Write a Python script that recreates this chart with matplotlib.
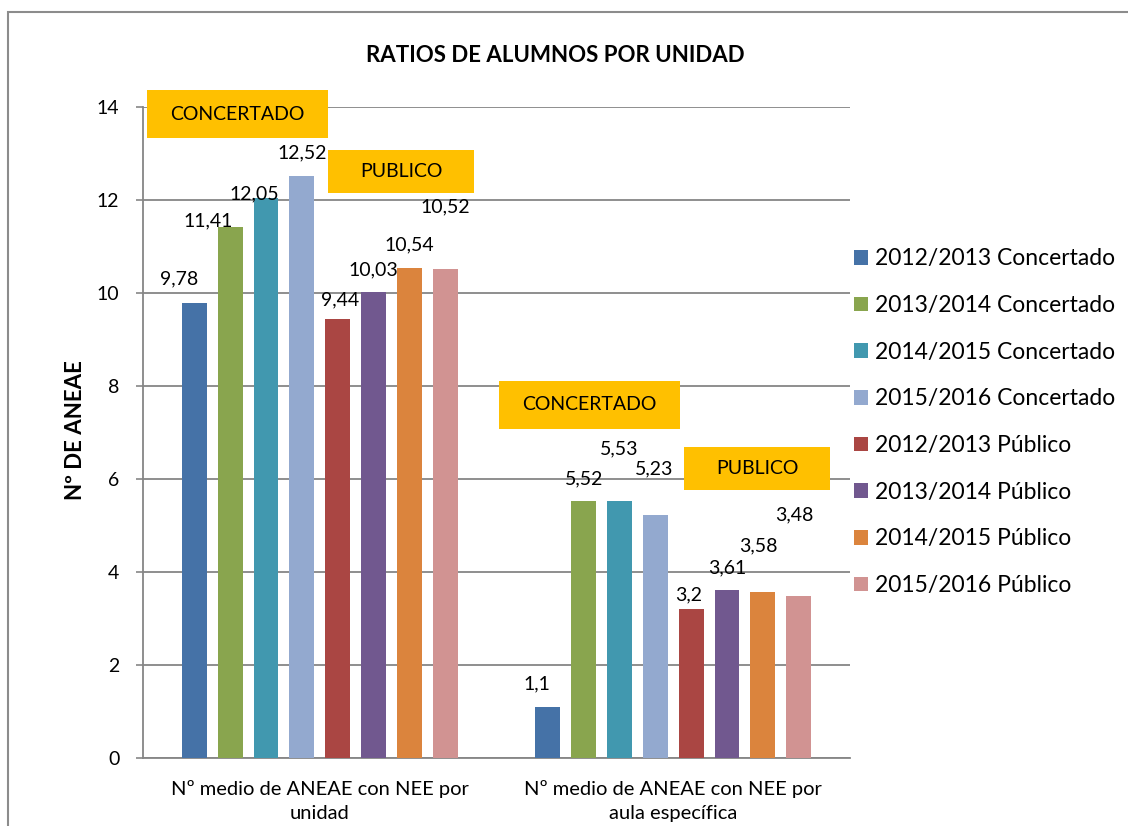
import numpy as np
import matplotlib
matplotlib.use('Agg')
import matplotlib.pyplot as plt
from matplotlib.patches import Rectangle

plt.rcParams['font.family'] = ['Lato', 'DejaVu Sans']

categories = ['Nº medio de ANEAE con NEE por\nunidad',
              'Nº medio de ANEAE con NEE por\naula específica']
series_names = ['2012/2013 Concertado', '2013/2014 Concertado',
                '2014/2015 Concertado', '2015/2016 Concertado',
                '2012/2013 Público', '2013/2014 Público',
                '2014/2015 Público', '2015/2016 Público']
c_2012 = [9.78, 1.1]
c_2013 = [11.41, 5.52]
c_2014 = [12.05, 5.53]
c_2015 = [12.52, 5.23]
p_2012 = [9.44, 3.2]
p_2013 = [10.03, 3.61]
p_2014 = [10.54, 3.58]
p_2015 = [10.52, 3.48]
values = [c_2012, c_2013, c_2014, c_2015, p_2012, p_2013, p_2014, p_2015]

colors = ['#4572A7', '#89A54E', '#4198AF', '#93A9CF',
          '#AA4643', '#71588F', '#DB843D', '#D19392']

# data labels were dragged around by hand in the original, offsets in px
label_off = [[(-15, 24), (-11, 23)],
             [(-22, 7), (0, 22)],
             [(-12, 4), (0, 52)],
             [(0, 23), (-1, 46)],
             [(2, 19), (-3, 14)],
             [(0, 22), (0, 22)],
             [(0, 23), (-4, 46)],
             [(0, 62), (-4, 81)]]

W, H = 1128, 826
fig = plt.figure(figsize=(W / 100, H / 100), dpi=100)


def fx(x):
    return x / W


def fy(y):
    return 1 - y / H


ax = fig.add_axes([fx(143), fy(758), (850 - 143) / W, (758 - 107) / H])

step = 0.1014
width = 0.0706
x = np.arange(len(categories))
bars = []
for j, (vals, col) in enumerate(zip(values, colors)):
    xs = x + (j - 3.5) * step
    b = ax.bar(xs, vals, width=width, color=col, label=series_names[j], zorder=3)
    bars.append(b)
    for i, v in enumerate(vals):
        dx, dy = label_off[j][i]
        ax.annotate(str(v).replace('.', ','), (xs[i], v), xytext=(dx, dy),
                    textcoords='offset pixels', ha='center', va='center',
                    fontsize=14, color='black', zorder=5)

ax.set_xlim(-0.5, 1.5)
ax.set_ylim(0, 14)
ax.set_yticks(np.arange(0, 15, 2))
ax.set_xticks(x)
ax.set_xticklabels(categories, fontsize=14.5, linespacing=1.5)
ax.tick_params(axis='x', length=0, pad=16)
ax.tick_params(axis='y', length=5, width=1.2, color='#868686', labelsize=14, pad=12)
ax.grid(axis='y', color='#868686', linewidth=1.3, zorder=0)
for s in ['top', 'right']:
    ax.spines[s].set_visible(False)
for s in ['left', 'bottom']:
    ax.spines[s].set_color('#868686')
    ax.spines[s].set_linewidth(1.3)

fig.text(fx(555), fy(55), 'RATIOS DE ALUMNOS POR UNIDAD', ha='center', va='center',
         fontsize=16, fontweight='bold')
fig.text(fx(75), fy(430), 'Nº DE ANEAE', ha='center', va='center', rotation=90,
         fontsize=16, fontweight='bold')

# orange annotation boxes
boxes = [('CONCERTADO', 147, 90, 328, 138),
         ('PUBLICO', 328, 150, 474, 193),
         ('CONCERTADO', 499, 381, 680, 429),
         ('PUBLICO', 684, 447, 830, 490)]
for txt, x0, y0, x1, y1 in boxes:
    fig.add_artist(Rectangle((fx(x0), fy(y1)), (x1 - x0) / W, (y1 - y0) / H,
                             transform=fig.transFigure, facecolor='#FFC000',
                             edgecolor='none', zorder=10))
    fig.text(fx((x0 + x1) / 2), fy((y0 + y1) / 2), txt, ha='center', va='center',
             fontsize=14, zorder=11)

# chart border
fig.add_artist(Rectangle((fx(8), fy(900)), 1.2, (900 - 12) / H,
                         transform=fig.transFigure, facecolor='none',
                         edgecolor='#8C8C8C', linewidth=1.5, zorder=0))

fig.legend(handles=bars, loc='upper left', bbox_to_anchor=(fx(843), fy(237)),
           frameon=False, fontsize=16.5, handlelength=0.6, handleheight=0.6,
           handletextpad=0.3, labelspacing=1.12, borderpad=0)

fig.savefig('out.png', dpi=100)
